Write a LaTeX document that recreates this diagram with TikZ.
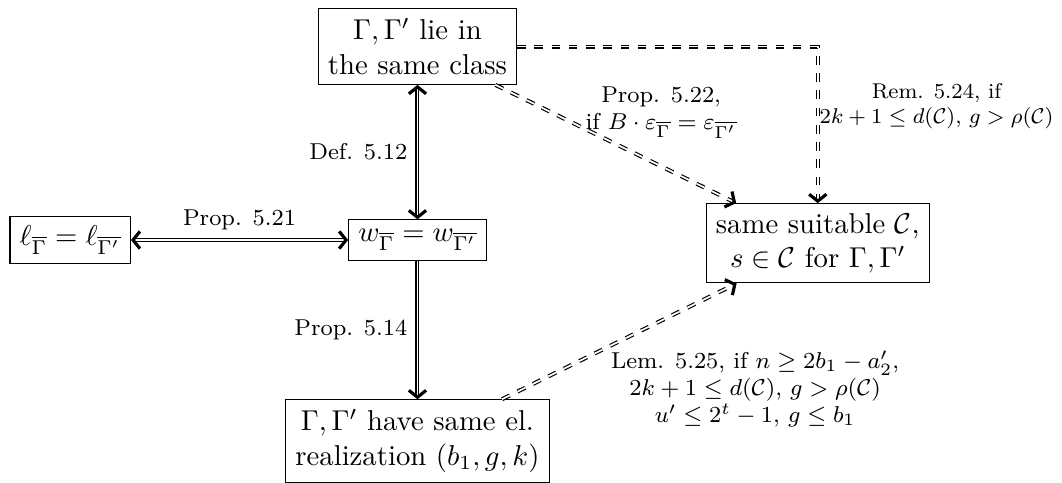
\documentclass[tikz,border=0pt]{standalone}
\usepackage{amsmath,amssymb}
\usepackage{tikz}
\usetikzlibrary{arrows.meta,positioning}

\begin{document}
\begin{tikzpicture}[
    box/.style={draw, align=center},
    tip/.tip={Straight Barb[length=2.4pt, width=6pt, line width=1.1pt]},
    arr/.style={double, -tip},
    darr/.style={double, tip-tip},
    dasharr/.style={double, dashed, -tip},
    lbl/.style={font=\footnotesize, align=center}
]
\useasboundingbox (-5.11,-2.962) rectangle (7.889,2.938);

\node[box] (cls) at (0,2.368) {$\Gamma,\Gamma'$ lie in\\the same class};
\node[box] (wgt) at (0,0) {$w_{\overline{\Gamma}}=w_{\overline{\Gamma'}}$};
\node[box] (len) at (-4.25,0) {$\ell_{\overline{\Gamma}}=\ell_{\overline{\Gamma'}}$};
\node[box] (suit) at (4.9,-0.04) {same suitable $\mathcal{C}$,\\$s\in\mathcal{C}$ for $\Gamma,\Gamma'$};
\node[box] (real) at (0,-2.46) {$\Gamma,\Gamma'$ have same el.\\realization $(b_1,g,k)$};

\draw[darr] (wgt) -- node[lbl, left] {Def. 5.12} (cls);
\draw[darr] (len) -- node[lbl, above] {Prop. 5.21} (wgt);
\draw[arr] (wgt) -- node[lbl, left] {Prop. 5.14} (real);
\draw[dasharr] (cls) -| node[lbl, right, pos=0.69, inner sep=0.5pt, scale=0.93, transform shape] {Rem. 5.24, if\\$2k+1\le d(\mathcal{C})$, $g>\rho(\mathcal{C})$} (suit);
\draw[dasharr] (cls) -- node[lbl, above right, pos=0.36, inner sep=1pt, yshift=-0.18cm] {Prop. 5.22,\\if $B\cdot\varepsilon_{\overline{\Gamma}}=\varepsilon_{\overline{\Gamma'}}$} (suit);
\draw[dasharr] (real) -- node[lbl, below right, pos=0.45, inner sep=1pt] {Lem. 5.25, if $n\ge 2b_1-a_2'$,\\$2k+1\le d(\mathcal{C})$, $g>\rho(\mathcal{C})$\\$u'\le 2^t-1$, $g\le b_1$} (suit);
\end{tikzpicture}
\end{document}
